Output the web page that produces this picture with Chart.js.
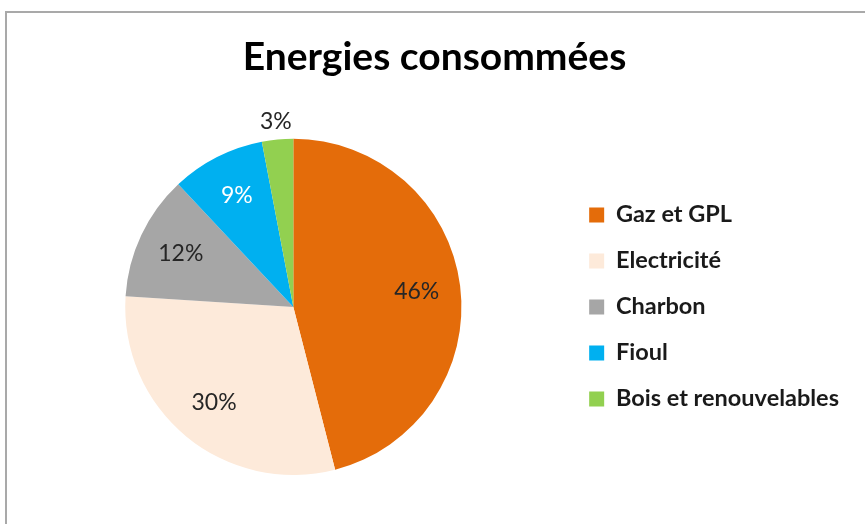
<!DOCTYPE html>
<html>
<head>
<meta charset="utf-8">
<script src="https://cdn.jsdelivr.net/npm/chart.js@4/dist/chart.umd.min.js"></script>
<style>
  html, body { margin: 0; padding: 0; background: #fff; }
  #wrap { position: relative; width: 865px; height: 524px; }
  #frame { position: absolute; left: 5px; top: 11px; right: -10px; bottom: -10px;
           border-left: 2px solid #a9a9a9; border-top: 2px solid #a9a9a9; }
  canvas { position: absolute; left: 0; top: 0; }
</style>
</head>
<body>
<div id="wrap">
  <div id="frame"></div>
  <canvas id="c" width="865" height="524"></canvas>
</div>
<script>
const titleText = 'Energies consommées';
const categories = ['Gaz et GPL', 'Electricité', 'Charbon', 'Fioul', 'Bois et renouvelables'];
const shares = [46, 30, 12, 9, 3];
const sliceColors = ['#E46C0A', '#FDEADA', '#A6A6A6', '#00B0F0', '#92D050'];
const labelColors = ['#262626', '#262626', '#262626', '#ffffff', '#262626'];

const FONT = 'Lato, "Open Sans", sans-serif';

const pieLabels = {
  id: 'pieLabels',
  afterDatasetsDraw(chart) {
    const ctx = chart.ctx;
    const meta = chart.getDatasetMeta(0);
    ctx.save();
    ctx.font = '23px ' + FONT;
    ctx.textAlign = 'center';
    ctx.textBaseline = 'middle';
    meta.data.forEach((arc, i) => {
      const p = arc.getProps(['x', 'y', 'startAngle', 'endAngle', 'outerRadius'], true);
      const mid = (p.startAngle + p.endAngle) / 2;
      const v = chart.data.datasets[0].data[i];
      const r = v < 5 ? p.outerRadius + 18 : p.outerRadius * 0.74;
      ctx.fillStyle = labelColors[i];
      ctx.fillText(v + '%', p.x + Math.cos(mid) * r, p.y + Math.sin(mid) * r);
    });
    ctx.restore();
  }
};

new Chart(document.getElementById('c'), {
  type: 'pie',
  data: {
    labels: categories,
    datasets: [{
      data: shares,
      backgroundColor: sliceColors,
      borderWidth: 0,
      hoverOffset: 0
    }]
  },
  options: {
    responsive: false,
    animation: false,
    layout: { padding: { left: 20, right: 16, top: 0, bottom: 49 } },
    plugins: {
      title: {
        display: true,
        text: titleText,
        color: '#000',
        font: { family: FONT, size: 39, weight: 'bold' },
        padding: { top: 34, bottom: 58 }
      },
      legend: {
        position: 'right',
        align: 'center',
        fullSize: false,
        labels: {
          color: '#1a1a1a',
          font: { family: FONT, size: 23.5, weight: 'bold' },
          boxWidth: 15,
          boxHeight: 15,
          padding: 22.5
        }
      },
      tooltip: { enabled: false }
    }
  },
  plugins: [pieLabels]
});
</script>
</body>
</html>
